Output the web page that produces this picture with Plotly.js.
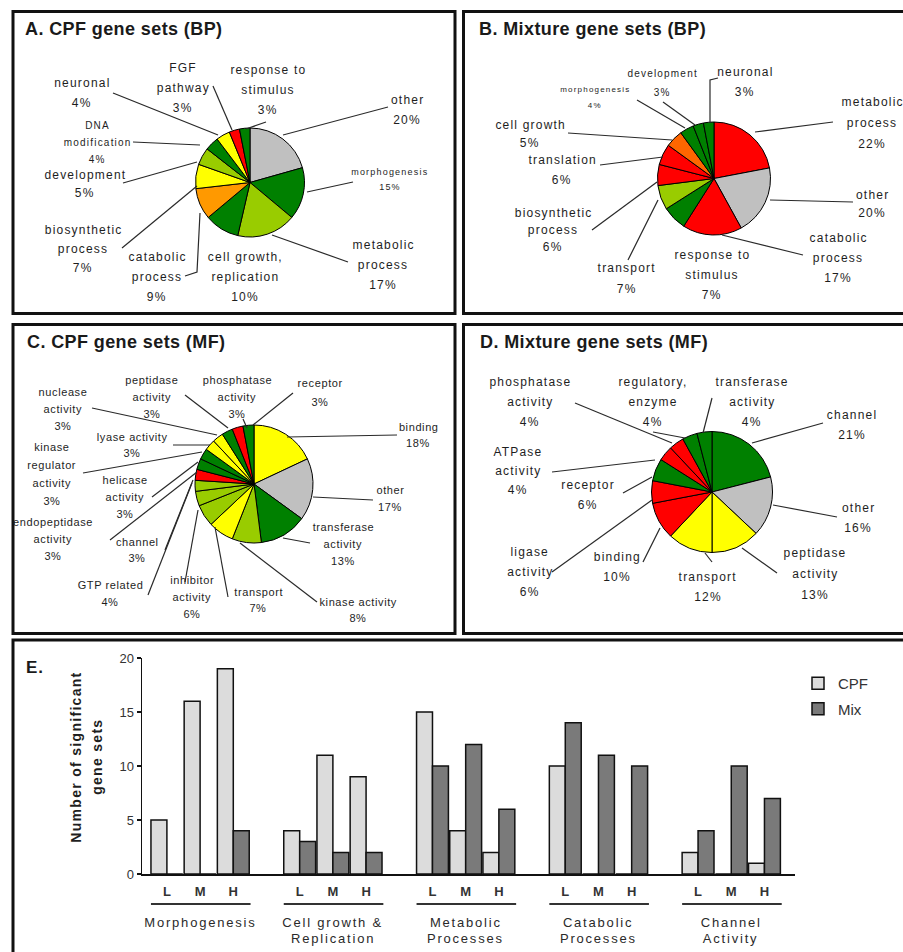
<!DOCTYPE html>
<html>
<head>
<meta charset="utf-8">
<script src="https://cdn.plot.ly/plotly-3.0.1.min.js"></script>
<style>html,body{margin:0;padding:0;background:#fff;}#chart{width:903px;height:952px;}</style>
</head>
<body>
<div id="chart"></div>
<script>
// ---------------- DATA ----------------
const pieA_labels = ["other","morphogenesis","metabolic<br>process","cell growth,<br>replication","catabolic<br>process","biosynthetic<br>process","development","DNA<br>modification","neuronal","FGF<br>pathway","response to<br>stimulus"];
const pieA_values = [20,15,17,10,9,7,5,4,4,3,3];

const pieB_labels = ["metabolic<br>process","other","catabolic<br>process","transport","response to<br>stimulus","biosynthetic<br>process","translation","cell growth","morphogenesis","development","neuronal"];
const pieB_values = [22,20,17,7,7,6,6,5,4,3,3];

const pieC_labels = ["binding","other","transferase<br>activity","kinase activity","transport","inhibitor<br>activity","GTP related","channel","endopeptidase<br>activity","helicase<br>activity","kinase<br>regulator<br>activity","lyase activity","nuclease<br>activity","peptidase<br>activity","phosphatase<br>activity","receptor"];
const pieC_values = [18,17,13,8,7,6,4,3,3,3,3,3,3,3,3,3];

const pieD_labels = ["channel","other","peptidase<br>activity","transport","binding","ligase<br>activity","receptor","ATPase<br>activity","phosphatase<br>activity","regulatory,<br>enzyme","transferase<br>activity"];
const pieD_values = [21,16,13,12,10,6,6,4,4,4,4];

const barGroups = ["Morphogenesis","Cell growth &<br>Replication","Metabolic<br>Processes","Catabolic<br>Processes","Channel<br>Activity"];
const barLevels = ["L","M","H"];
const cpfValues = [5,16,19, 4,11,9, 15,4,2, 10,0,0, 2,0,1];
const mixValues = [0,0,4, 3,2,2, 10,12,6, 14,11,10, 4,10,7];

const panelTitles = ["A. CPF gene sets (BP)","B. Mixture gene sets (BP)","C. CPF gene sets (MF)","D. Mixture gene sets (MF)","E."];

// ---------------- STYLE / LAYOUT ----------------
const W = 903, H = 952;
const FONT = "Liberation Sans, Arial, sans-serif";
const TXT = "#1e1e1e";
const GRAY = "#C0C0C0", GREEN = "#008000", YG = "#99CC00", YEL = "#FFFF00", RED = "#FF0000", ORA = "#FF9900", ORA2 = "#FF6600";

const pieA_colors = [GRAY, GREEN, YG, GREEN, ORA, YEL, YG, GREEN, YEL, RED, GREEN];
const pieB_colors = [RED, GRAY, RED, GREEN, YG, RED, RED, ORA2, GREEN, GREEN, GREEN];
const pieC_colors = [YEL, GRAY, GREEN, YG, YEL, YG, YG, YG, RED, GREEN, GREEN, YEL, YEL, GREEN, RED, GREEN];
const pieD_colors = [GREEN, GRAY, YEL, YEL, RED, RED, GREEN, RED, RED, GREEN, GREEN];

// pie geometry (pixel centre / radius)
const pieGeom = {A:{cx:250,cy:182.5,r:54.5}, B:{cx:714,cy:178.5,r:56.5}, C:{cx:254,cy:484,r:59}, D:{cx:712,cy:492,r:60.5}};

// label placement per slice (pixel coords): x, first-line y, line gap, font size, leader path
const placeA = [
  {x:407,y:100,g:20,p:"M388,107 L283,135"},
  {x:390,y:172,g:15,fs:9,p:"M353,182 L307,192"},
  {x:383,y:245,g:20,p:"M348,262 L272,235"},
  {x:245,y:257,g:20},
  {x:157,y:257,g:20,p:"M185,276 L197,272 L200,213"},
  {x:83,y:230,g:19,p:"M122,248 L197,186"},
  {x:85,y:175,g:18,p:"M123,183 L197,162"},
  {x:97,y:125,g:17,fs:10,p:"M133,142 L200,145"},
  {x:82,y:83,g:20,p:"M113,93 L218,135"},
  {x:183,y:68,g:20,p:"M213,86 L232,130"},
  {x:268,y:70,g:20,p:"M246,129 L266,122"}
];
const placeB = [
  {x:872,y:102,g:21,p:"M833,122 L755,132"},
  {x:872,y:195,g:18,p:"M853,202 L770,200"},
  {x:838,y:238,g:20,p:"M803,255 L722,235"},
  {x:627,y:268,g:21,p:"M628,260 L658,200"},
  {x:712,y:255,g:20},
  {x:553,y:213,g:17,p:"M592,230 L657,182"},
  {x:562,y:160,g:20,p:"M600,165 L663,157"},
  {x:530,y:125,g:18,p:"M568,133 L672,140"},
  {x:595,y:89,g:16,fs:8,p:"M637,100 L685,128"},
  {x:662,y:73,g:19,fs:10,p:"M663,102 L695,125"},
  {x:745,y:72,g:20,p:"M718,78 L710,80 L710,123"}
];
const placeC = [
  {x:418,y:427,g:16,p:"M397,435 L287,437"},
  {x:390,y:490,g:17,p:"M373,500 L313,497"},
  {x:343,y:527,g:17,p:"M310,543 L283,538"},
  {x:358,y:602,g:16,p:"M317,602 L240,543"},
  {x:258,y:592,g:16,p:"M228,597 L215,527"},
  {x:192,y:580,g:17,p:"M185,582 L198,510"},
  {x:110,y:585,g:17,p:"M148,595 L192,483"},
  {x:137,y:542,g:16,p:"M165,550 L193,480"},
  {x:53,y:522,g:17,p:"M110,540 L197,472"},
  {x:125,y:480,g:17,p:"M152,497 L198,462"},
  {x:52,y:447,g:18,p:"M83,473 L202,452"},
  {x:132,y:437,g:16,p:"M173,445 L210,445"},
  {x:63,y:392,g:17,p:"M92,408 L217,435"},
  {x:152,y:380,g:17,p:"M185,395 L228,428"},
  {x:237,y:380,g:17,p:"M243,419 L247,428"},
  {x:320,y:383,g:19,p:"M293,393 L253,425"}
];
const placeD = [
  {x:852,y:415,g:20,p:"M823,423 L752,443"},
  {x:858,y:508,g:20,p:"M837,517 L773,505"},
  {x:815,y:553,g:21,p:"M777,573 L742,548"},
  {x:708,y:577,g:20,p:"M712,562 L705,553"},
  {x:617,y:557,g:20,p:"M643,562 L660,528"},
  {x:530,y:552,g:20,p:"M552,572 L652,500"},
  {x:588,y:485,g:20,p:"M623,493 L652,477"},
  {x:518,y:452,g:19,p:"M552,472 L655,460"},
  {x:530,y:382,g:20,p:"M575,403 L672,443"},
  {x:653,y:382,g:20,p:"M653,432 L685,438"},
  {x:752,y:382,g:20,p:"M712,398 L703,433"}
];

const titlePos = [[23,29],[477,29],[25,342],[478,342],[24,667]];

// ---------------- BUILD ----------------
const annotations = [], annLS = [], shapes = [];

function addText(x, y, text, size, opts) {
  opts = opts || {};
  annotations.push(Object.assign({
    xref:"x", yref:"y", x:x, y:y, text:text, showarrow:false,
    xanchor:"center", yanchor:"middle",
    font:{family:FONT, size:size, color:TXT}
  }, opts.ann || {}));
  annLS.push(opts.ls || 0);
}

function pieTrace(labels, values, colors, g) {
  return {
    type:"pie", labels:labels, values:values, sort:false, direction:"clockwise", rotation:0,
    textinfo:"none", hoverinfo:"none", showlegend:false,
    marker:{colors:colors, line:{color:"#000", width:1}},
    domain:{x:[(g.cx-g.r)/W,(g.cx+g.r)/W], y:[1-(g.cy+g.r)/H, 1-(g.cy-g.r)/H]}
  };
}

function pieLabels(labels, values, place, baseSize, ls) {
  labels.forEach((lab, i) => {
    const p = place[i];
    const lines = lab.split("<br>").concat([values[i] + "%"]);
    lines.forEach((t, k) => addText(p.x, p.y + k*p.g, t, p.fs || baseSize, {ls: ls}));
    if (p.p) shapes.push({type:"path", xref:"x", yref:"y", path:p.p, line:{color:"#2a2a2a", width:1.2}});
  });
}

pieLabels(pieA_labels, pieA_values, placeA, 12, 1.2);
pieLabels(pieB_labels, pieB_values, placeB, 12, 1.2);
pieLabels(pieC_labels, pieC_values, placeC, 11, 0.6);
pieLabels(pieD_labels, pieD_values, placeD, 12, 1.2);

// panel titles
panelTitles.forEach((t, i) => {
  const sz = i === 4 ? 17 : 18;
  addText(titlePos[i][0], titlePos[i][1], "<b>" + t + "</b>", sz,
    {ann:{xanchor:"left", align:"left", font:{family:FONT, size:sz, color:"#1a1a1a"}}, ls: i === 4 ? 1 : 0.4});
});

// panel borders
[[13,11.5,455,313.5],[463.5,11.5,930,313.5],[13,324.5,455,633.5],[463.5,324.5,930,633.5],[13,640,930,980]].forEach(b => {
  shapes.push({type:"rect", xref:"x", yref:"y", x0:b[0], y0:b[1], x1:b[2], y1:b[3], line:{color:"#111", width:3}, fillcolor:"rgba(0,0,0,0)"});
});

// bar chart positions (group stride 4 slots)
const barX = [], tickText = [];
barGroups.forEach((g, gi) => barLevels.forEach((l, li) => { barX.push(gi*4 + li); tickText.push("<b>" + l + "</b>"); }));

barGroups.forEach((g, gi) => {
  shapes.push({type:"line", xref:"x2", yref:"y", x0:gi*4-0.48, x1:gi*4+2.52, y0:904, y1:904, line:{color:"#333", width:2}});
  const lines = g.split("<br>");
  lines.forEach((t, k) => {
    annotations.push({xref:"x2", yref:"y", x:gi*4+1, y:922 + k*16, text:t, showarrow:false, xanchor:"center", yanchor:"middle",
      font:{family:FONT, size:13, color:"#2a2a2a"}});
    annLS.push(1.8);
  });
});

// y axis title (two rotated lines)
addText(76, 757, "<b>Number of significant</b>", 14, {ann:{textangle:-90}, ls:1.3});
addText(97, 757, "<b>gene sets</b>", 14, {ann:{textangle:-90}, ls:1.3});

const traces = [
  {type:"scatter", x:[null], y:[null], xaxis:"x", yaxis:"y", showlegend:false, hoverinfo:"skip"},
  pieTrace(pieA_labels, pieA_values, pieA_colors, pieGeom.A),
  pieTrace(pieB_labels, pieB_values, pieB_colors, pieGeom.B),
  pieTrace(pieC_labels, pieC_values, pieC_colors, pieGeom.C),
  pieTrace(pieD_labels, pieD_values, pieD_colors, pieGeom.D),
  {type:"bar", name:"CPF", x:barX, y:cpfValues, xaxis:"x2", yaxis:"y2", legendgroup:"cpf",
   marker:{color:"#DCDCDC", line:{color:"#111", width:1.5}}, hoverinfo:"none"},
  {type:"bar", name:"Mix", x:barX, y:mixValues, xaxis:"x2", yaxis:"y2", legendgroup:"mix",
   marker:{color:"#7A7A7A", line:{color:"#111", width:1.5}}, hoverinfo:"none"}
];

const layout = {
  width:W, height:H, margin:{l:0,r:0,t:0,b:0},
  paper_bgcolor:"#fff", plot_bgcolor:"rgba(0,0,0,0)",
  showlegend:true,
  barmode:"group", bargap:0.04, bargroupgap:0,
  xaxis:{domain:[0,1], range:[0,W], visible:false, fixedrange:true},
  yaxis:{domain:[0,1], range:[H,0], visible:false, fixedrange:true},
  xaxis2:{domain:[142/W, 795/W], range:[-0.75, 18.92], anchor:"y2",
    showline:true, linecolor:"#111", linewidth:1.5, ticks:"", showgrid:false, zeroline:false,
    tickmode:"array", tickvals:barX, ticktext:tickText, ticklabelstandoff:5,
    tickfont:{family:FONT, size:13, color:"#333"}},
  yaxis2:{domain:[1-874/H, 1-658/H], range:[0,20], anchor:"x2",
    showline:true, linecolor:"#111", linewidth:1.5, ticks:"outside", ticklen:4, tickwidth:1.5, tickcolor:"#111",
    tickmode:"array", tickvals:[0,5,10,15,20], showgrid:false, zeroline:false,
    tickfont:{family:FONT, size:13, color:"#333"}},
  legend:{x:798/W, y:1-667/H, xanchor:"left", yanchor:"top", bgcolor:"rgba(0,0,0,0)",
    traceorder:"grouped", tracegroupgap:3, font:{family:FONT, size:15, color:"#333"}},
  annotations:annotations,
  shapes:shapes
};

Plotly.newPlot("chart", traces, layout, {staticPlot:true}).then(() => {
  document.querySelectorAll("g.annotation").forEach(g => {
    const i = +g.getAttribute("data-index");
    const ls = annLS[i];
    const t = g.querySelector("text.annotation-text");
    if (t && ls) t.style.letterSpacing = ls + "px";
  });
});
</script>
</body>
</html>
